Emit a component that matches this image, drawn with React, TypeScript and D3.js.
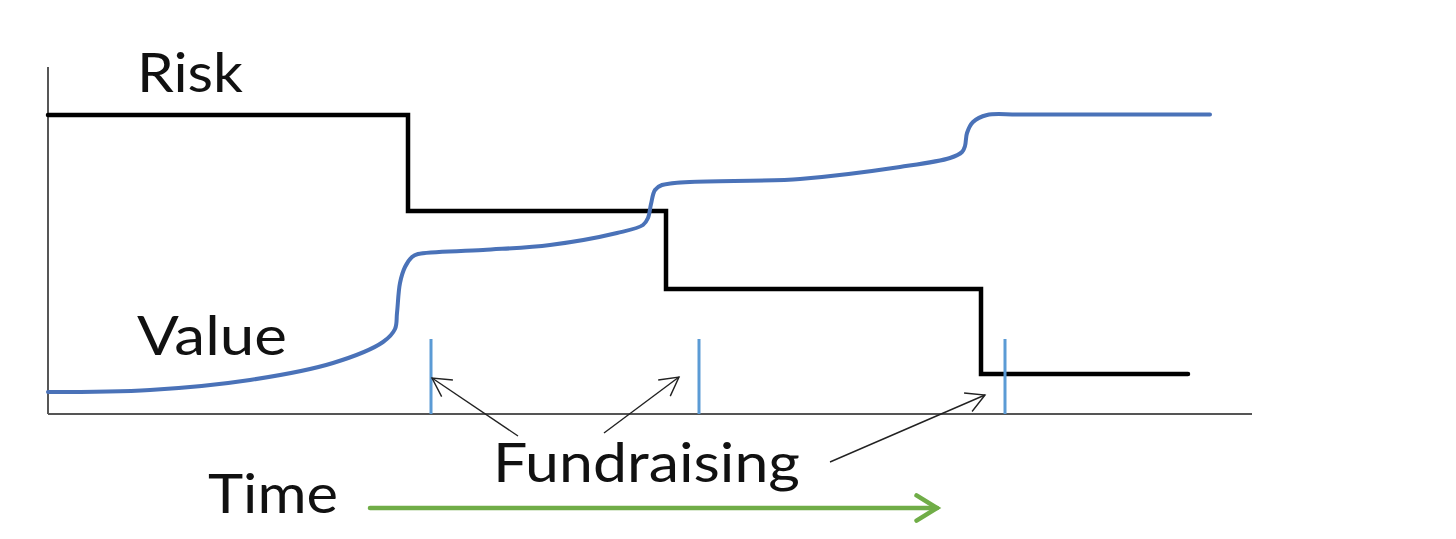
import * as d3 from "d3";

// time runs 0..120, level runs 0..35
const riskTimes = [0, 36, 61.8, 93.3, 114];
const riskLevels = [29.9, 20.3, 12.5, 4.0, 4.0];

const valueTimes = [0, 10.2, 20.2, 28.5, 33.5, 34.7, 34.9, 35.2, 35.7, 36.4, 37, 43.5, 50.2, 56.9, 59.5, 60, 60.3, 60.7, 61.4, 75.2, 85.2, 90.2, 91.4, 91.7, 91.9, 92.5, 93.9, 97, 105, 116.2];
const valueLevels = [2.2, 2.4, 3.4, 5.1, 7.2, 8.5, 10.1, 13.1, 14.7, 15.7, 16, 16.4, 16.9, 18.1, 18.9, 19.6, 21, 22.4, 22.9, 23.5, 24.7, 25.6, 26.2, 26.8, 28.1, 29.2, 29.9, 29.95, 29.95, 29.95];

const fundraisingTimes = [38.3, 65.1, 95.7];
const fundraisingTickTop = 7.5;

// annotation arrows: tail -> tip
const arrowTails = [[47, -2.2], [55.6, -1.9], [78.2, -4.8]];
const arrowTips = [[38.4, 3.6], [63.1, 3.7], [93.7, 1.9]];

const timeArrow = { from: 32.2, to: 88.9, level: -9.4 };

const labels = [
  { text: "Risk", t: 8.9, v: 32.2, w: 106 },
  { text: "Value", t: 8.9, v: 5.9, w: 150 },
  { text: "Fundraising", t: 44.5, v: -6.8, w: 307 },
  { text: "Time", t: 16, v: -9.9, w: 130 },
];

const width = 1456;
const height = 539;

const x = d3.scaleLinear().domain([0, 120]).range([48, 1248]);
const y = d3.scaleLinear().domain([0, 35]).range([414, 64]);

const chevron = (tail: number[], tip: number[], len: number, ang: number) => {
  const tx = x(tip[0]), ty = y(tip[1]);
  const a = Math.atan2(ty - y(tail[1]), tx - x(tail[0]));
  const p1 = [tx - len * Math.cos(a - ang), ty - len * Math.sin(a - ang)];
  const p2 = [tx - len * Math.cos(a + ang), ty - len * Math.sin(a + ang)];
  return `M${p1[0]},${p1[1]}L${tx},${ty}L${p2[0]},${p2[1]}`;
};

export default function App() {
  const riskLine = d3.line<number>()
    .x((d, i) => x(riskTimes[i]))
    .y((d) => y(d))
    .curve(d3.curveStepAfter);

  const valueLine = d3.line<number>()
    .x((d, i) => x(valueTimes[i]))
    .y((d) => y(d))
    .curve(d3.curveCatmullRom.alpha(0.5));

  return (
    <div style={{ position: "absolute", left: 0, top: 0 }}>
      <svg width={width} height={height} style={{ display: "block", background: "#fff" }}>
        {/* axes */}
        <line x1={x(0)} x2={x(0)} y1={y(0)} y2={y(34.7)} stroke="#444" strokeWidth={1.8} />
        <line x1={x(0)} x2={x(120.4)} y1={y(0)} y2={y(0)} stroke="#555" strokeWidth={1.8} />

        <path d={riskLine(riskLevels) || ""} fill="none" stroke="#000" strokeWidth={4.5} strokeLinecap="round" />
        <path d={valueLine(valueLevels) || ""} fill="none" stroke="#4a72b8" strokeWidth={4} strokeLinecap="round" strokeLinejoin="round" />

        {fundraisingTimes.map((t, i) => (
          <line key={i} x1={x(t)} x2={x(t)} y1={y(0)} y2={y(fundraisingTickTop)} stroke="#5b9bd5" strokeWidth={3} />
        ))}

        {arrowTails.map((tail, i) => (
          <g key={i} fill="none" stroke="#222" strokeWidth={1.4}>
            <line x1={x(tail[0])} y1={y(tail[1])} x2={x(arrowTips[i][0])} y2={y(arrowTips[i][1])} />
            <path d={chevron(tail, arrowTips[i], 21, 0.5)} />
          </g>
        ))}

        <g fill="none" stroke="#70ad47" strokeWidth={4.5} strokeLinecap="round">
          <line x1={x(timeArrow.from)} x2={x(timeArrow.to)} y1={y(timeArrow.level)} y2={y(timeArrow.level)} />
          <path d={chevron([timeArrow.from, timeArrow.level], [timeArrow.to, timeArrow.level], 24, 0.55)} />
        </g>

        {labels.map((l) => (
          <text key={l.text} x={x(l.t)} y={y(l.v)} fontFamily="Lato, 'Open Sans', sans-serif" fontSize={55}
            fill="#111" textLength={l.w} lengthAdjust="spacingAndGlyphs">
            {l.text}
          </text>
        ))}
      </svg>
    </div>
  );
}
